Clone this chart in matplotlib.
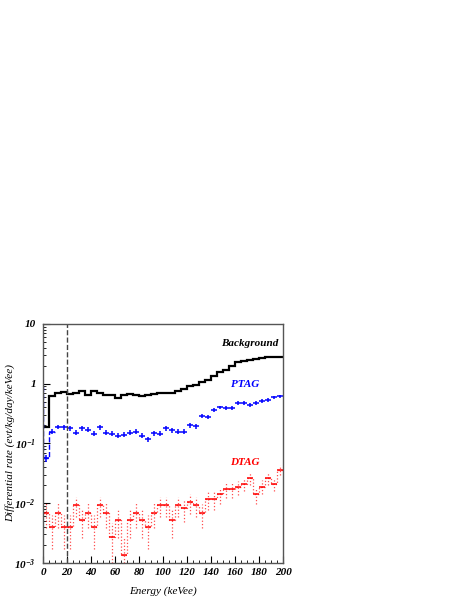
import numpy as np
import matplotlib
matplotlib.use('Agg')
import matplotlib.pyplot as plt
from matplotlib.ticker import FixedLocator, MultipleLocator, LogLocator, NullFormatter

# bin edges: 40 bins of 5 keVee
edges = np.arange(0, 205, 5)
centers = edges[:-1] + 2.5

background = [0.19, 0.63, 0.69, 0.73, 0.68, 0.71, 0.75, 0.65, 0.74, 0.69,
              0.64, 0.64, 0.57, 0.65, 0.68, 0.64, 0.63, 0.64, 0.68, 0.71,
              0.71, 0.71, 0.75, 0.82, 0.90, 0.95, 1.08, 1.17, 1.36, 1.55,
              1.71, 2.0, 2.27, 2.38, 2.5, 2.6, 2.7, 2.8, 2.8, 2.8]

ptag = [0.056, 0.158, 0.19, 0.185, 0.18, 0.152, 0.18, 0.17, 0.145, 0.185,
        0.152, 0.145, 0.135, 0.14, 0.152, 0.158, 0.135, 0.117, 0.148, 0.145,
        0.18, 0.165, 0.158, 0.158, 0.2, 0.195, 0.29, 0.275, 0.36, 0.40,
        0.39, 0.39, 0.47, 0.47, 0.44, 0.48, 0.52, 0.54, 0.59, 0.61]
ptag_err = [0.008, 0.015, 0.017, 0.017, 0.016, 0.015, 0.016, 0.016, 0.014, 0.017,
            0.015, 0.014, 0.014, 0.014, 0.015, 0.015, 0.014, 0.012, 0.014, 0.014,
            0.016, 0.015, 0.015, 0.015, 0.018, 0.018, 0.024, 0.023, 0.028, 0.030,
            0.029, 0.029, 0.034, 0.034, 0.033, 0.035, 0.037, 0.038, 0.041, 0.042]

dtag = [0.0069, 0.004, 0.0069, 0.004, 0.004, 0.0093, 0.0053, 0.0069, 0.004, 0.0093,
        0.0069, 0.00275, 0.0053, 0.00135, 0.0053, 0.0069, 0.0053, 0.004, 0.0069, 0.0093,
        0.0093, 0.0053, 0.0093, 0.0082, 0.0105, 0.0093, 0.0068, 0.0118, 0.0118, 0.014,
        0.017, 0.017, 0.0187, 0.021, 0.026, 0.014, 0.019, 0.026, 0.021, 0.0365]
dtag_err = [0.0030, 0.0023, 0.0030, 0.0023, 0.0023, 0.0035, 0.0027, 0.0030, 0.0023, 0.0035,
            0.0030, 0.0020, 0.0027, 0.00134, 0.0027, 0.0030, 0.0027, 0.0023, 0.0030, 0.0035,
            0.0035, 0.0027, 0.0035, 0.0034, 0.0038, 0.0035, 0.0030, 0.0040, 0.0040, 0.0043,
            0.0048, 0.0048, 0.0050, 0.0053, 0.0060, 0.0043, 0.0050, 0.0060, 0.0053, 0.0070]

ytick_vals = [1e-3, 1e-2, 1e-1, 1, 10]
ytick_labels = ['$10^{-3}$', '$10^{-2}$', '$10^{-1}$', '1', '10']
xtick_vals = [0, 20, 40, 60, 80, 100, 120, 140, 160, 180, 200]

plt.rcParams['font.family'] = 'Liberation Serif'
plt.rcParams['font.weight'] = 'bold'
plt.rcParams['font.style'] = 'italic'
plt.rcParams['mathtext.fontset'] = 'custom'
plt.rcParams['mathtext.rm'] = 'Liberation Serif:bold:italic'
plt.rcParams['mathtext.it'] = 'Liberation Serif:bold:italic'
plt.rcParams['mathtext.bf'] = 'Liberation Serif:bold:italic'

fig = plt.figure(figsize=(4.69, 6.07), dpi=100)
ax = fig.add_axes([0.0917, 0.0725, 0.512, 0.394])

# background histogram
ax.stairs(background, edges, color='black', lw=1.6, baseline=None)

# PTAG: crosses, first step dashed
ax.plot([0.4, 0.4], [ptag[0], 1.0], color='blue', lw=1, ls='--')
ax.stairs(ptag[:2], edges[:3], color='blue', lw=1, ls='--', baseline=None)
ax.errorbar(centers, ptag, xerr=2.5, yerr=ptag_err, fmt='none', ecolor='blue', elinewidth=1.1, capsize=0)

# DTAG: dotted histogram with dotted error bars
ax.stairs(dtag, edges, color='red', lw=0.9, ls=':', baseline=None, alpha=0.7)
lo = [min(e, v - 1.01e-3) if v - e <= 1e-3 else e for v, e in zip(dtag, dtag_err)]
eb = ax.errorbar(centers, dtag, yerr=[lo, dtag_err], fmt='none', ecolor='red', elinewidth=0.9, capsize=0, alpha=0.7)
eb[2][0].set_linestyle(':')
ax.errorbar(centers, dtag, xerr=2.5, fmt='none', ecolor='red', elinewidth=1.1, capsize=0)

# threshold line
ax.axvline(20, color='#444444', lw=1, ls='--')

ax.set_yscale('log')
ax.set_xlim(0, 200)
ax.set_ylim(1e-3, 10)
ax.yaxis.set_major_locator(FixedLocator(ytick_vals))
ax.set_yticklabels(ytick_labels)
ax.yaxis.set_minor_locator(LogLocator(base=10, subs=np.arange(2, 10), numticks=20))
ax.yaxis.set_minor_formatter(NullFormatter())
ax.set_xticks(xtick_vals)
ax.xaxis.set_minor_locator(MultipleLocator(5))
ax.tick_params(which='both', direction='in', labelsize=8)
ax.tick_params(which='major', length=5)
ax.tick_params(which='minor', length=2.5)
ax.tick_params(axis='y', pad=5)
for s in ax.spines.values():
    s.set_color('#555555')
    s.set_linewidth(1)

ax.set_xlabel('Energy (keVee)', fontsize=8, labelpad=7)
ax.set_ylabel('Differential rate (evt/kg/day/keVee)', fontsize=8)
ax.yaxis.set_label_coords(-0.118, 0.5)

ax.text(196, 3.9, 'Background', color='black', fontsize=8, ha='right', va='bottom')
ax.text(168, 0.8, 'PTAG', color='blue', fontsize=8, ha='center', va='bottom')
ax.text(168, 0.04, 'DTAG', color='red', fontsize=8, ha='center', va='bottom')

fig.savefig('out.png', dpi=100)
